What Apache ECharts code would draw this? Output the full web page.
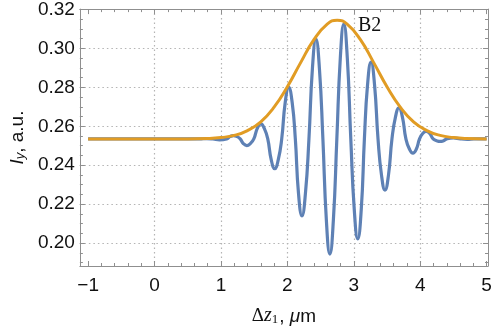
<!DOCTYPE html>
<html>
<head>
<meta charset="utf-8">
<script src="https://cdn.jsdelivr.net/npm/echarts@6/dist/echarts.min.js"></script>
<style>
html, body { margin: 0; padding: 0; background: #fff; }
#chart { width: 498px; height: 331px; }
</style>
</head>
<body>
<div id="chart"></div>
<script>
// orange envelope
const envX = [-1, 0, 0.5, 0.8, 1.0, 1.2, 1.4, 1.6, 1.8, 2.0, 2.2, 2.4, 2.6, 2.75, 2.9, 3.1, 3.3, 3.5, 3.7, 3.9, 4.1, 4.3, 4.5, 4.7, 5.0]
const envY = [0.2535, 0.2535, 0.2535, 0.2537, 0.2542, 0.2553, 0.2578, 0.2623, 0.2698, 0.2803, 0.2927, 0.3045, 0.3125, 0.3145,
  0.3125, 0.3045, 0.2927, 0.2803, 0.2698, 0.2623, 0.2578, 0.2553, 0.2542, 0.2537, 0.2535]

// blue signal: flat part, then peaks / troughs with their flanks and base crossings
const sigX = [-1, 0, 0.5, 0.68, 0.78, 0.88, 0.98, 1.085,
  1.1375, 1.19, 1.2425, 1.29, 1.3375, 1.39, 1.4425, 1.495,
  1.5475, 1.60, 1.6525, 1.705, 1.7575, 1.81, 1.8625, 1.915,
  1.9675, 2.02, 2.0725, 2.12, 2.1675, 2.22, 2.2725, 2.325,
  2.3775, 2.43, 2.4825, 2.535, 2.5875, 2.64, 2.6925, 2.745,
  2.7975, 2.85, 2.9025, 2.955, 3.0075, 3.06, 3.1125, 3.16,
  3.2075, 3.26, 3.3125, 3.365, 3.4175, 3.47, 3.5225, 3.575,
  3.6275, 3.68, 3.7325, 3.785, 3.8375, 3.89, 3.9425, 3.99,
  4.0375, 4.09, 4.1425, 4.195, 4.2475, 4.30, 4.3525, 4.40,
  4.50, 4.605, 4.71, 4.81, 4.91, 5.0]
const sigY = [0.2535, 0.2535, 0.2535, 0.2535, 0.2537, 0.2535, 0.2530, 0.2535,
  0.2547, 0.2552, 0.2547, 0.2535, 0.2511, 0.2501, 0.2511, 0.2535,
  0.2589, 0.2612, 0.2589, 0.2535, 0.2427, 0.2382, 0.2427, 0.2535,
  0.2722, 0.2800, 0.2722, 0.2535, 0.2256, 0.2140, 0.2256, 0.2535,
  0.2898, 0.3048, 0.2898, 0.2535, 0.2116, 0.1943, 0.2116, 0.2535,
  0.2952, 0.3125, 0.2952, 0.2535, 0.2172, 0.2021, 0.2172, 0.2535,
  0.2814, 0.2930, 0.2814, 0.2535, 0.2349, 0.2272, 0.2349, 0.2535,
  0.2647, 0.2694, 0.2647, 0.2535, 0.2483, 0.2462, 0.2483, 0.2535,
  0.2563, 0.2574, 0.2563, 0.2535, 0.2526, 0.2522, 0.2526, 0.2535,
  0.2540, 0.2535, 0.2533, 0.2535, 0.2535, 0.2535]

const xMajor = [-1, 0, 1, 2, 3, 4, 5]
const xGrid = [0, 1, 2, 3, 4]
const yMajor = [0.20, 0.22, 0.24, 0.26, 0.28, 0.30, 0.32]
const yGrid = [0.20, 0.22, 0.24, 0.26, 0.28, 0.30]

const xMinor = []
for (let i = -5; i <= 25; i++) xMinor.push(+(i * 0.2).toFixed(1))
const yMinor = []
for (let i = 38; i <= 64; i++) yMinor.push(+(i * 0.005).toFixed(3))

const frameColor = '#8f8f8f'
const textColor = '#111'

function pair(xs, ys) {
  return xs.map((x, i) => [x, ys[i]])
}

/** one side of the frame: line + ticks, no labels */
function frameAxis(base, position, ticks, len, showLine) {
  return Object.assign({}, base, {
    position: position,
    axisLine: { show: showLine, onZero: false, lineStyle: { color: frameColor, width: 1 } },
    axisTick: { show: true, inside: true, length: len, customValues: ticks, lineStyle: { color: frameColor, width: 1 } },
    axisLabel: { show: false },
    splitLine: { show: false }
  })
}

/** dotted grid lines only */
function gridAxis(base, position, values) {
  return Object.assign({}, base, {
    position: position,
    axisLine: { show: false },
    axisTick: { show: false, customValues: values },
    axisLabel: { show: false },
    splitLine: { show: true, lineStyle: { color: '#b4b4b4', width: 1.2, type: [1.5, 3] } }
  })
}

const baseX = { type: 'value', min: -1.124, max: 5.021 }
const baseY = { type: 'value', min: 0.1882, max: 0.3202 }

const xMain = frameAxis(baseX, 'bottom', xMajor, 5, true)
xMain.axisLabel = {
  show: true, customValues: xMajor, margin: 10, fontSize: 19, fontFamily: 'Liberation Sans', color: textColor,
  formatter: v => (v < 0 ? '\u2212' + Math.abs(v) : String(v))
}
xMain.name = '{d|\u0394}{z|z}{s|1}{n|, }{mu|\u03bc}{n|m}'
xMain.nameLocation = 'middle'
xMain.nameGap = 38
xMain.nameTextStyle = {
  rich: {
    d: { fontFamily: 'Liberation Serif', fontSize: 19, color: textColor, lineHeight: 22, verticalAlign: 'bottom' },
    z: { fontFamily: 'Liberation Serif', fontStyle: 'italic', fontSize: 20, color: textColor, lineHeight: 22, verticalAlign: 'bottom' },
    s: { fontFamily: 'Liberation Serif', fontSize: 13, color: textColor, lineHeight: 16, verticalAlign: 'bottom', padding: [0, 1, 0, 0] },
    n: { fontFamily: 'Liberation Sans', fontSize: 19, color: textColor, lineHeight: 22, verticalAlign: 'bottom' },
    mu: { fontFamily: 'Liberation Sans', fontStyle: 'italic', fontSize: 19, color: textColor, lineHeight: 22, verticalAlign: 'bottom' }
  }
}

const yMain = frameAxis(baseY, 'left', yMajor, 5, true)
yMain.axisLabel = {
  show: true, customValues: yMajor, margin: 5, fontSize: 19, fontFamily: 'Liberation Sans', color: textColor,
  formatter: v => v.toFixed(2)
}
yMain.name = '{i|I}{s|y}{n|, a.u.}'
yMain.nameLocation = 'middle'
yMain.nameGap = 46
yMain.nameTextStyle = {
  rich: {
    i: { fontFamily: 'Liberation Sans', fontStyle: 'italic', fontSize: 19, color: textColor, lineHeight: 22, verticalAlign: 'bottom' },
    s: { fontFamily: 'Liberation Sans', fontStyle: 'italic', fontSize: 13, color: textColor, lineHeight: 17, verticalAlign: 'bottom' },
    n: { fontFamily: 'Liberation Sans', fontSize: 19, color: textColor, lineHeight: 22, verticalAlign: 'bottom' }
  }
}

const chart = echarts.init(document.getElementById('chart'))
chart.setOption({
  animation: false,
  backgroundColor: '#fff',
  title: {
    text: 'B2', left: 353, top: 11,
    textStyle: { fontFamily: 'Liberation Serif', fontSize: 20, fontWeight: 'normal', color: textColor }
  },
  grid: { left: 73, right: 10, top: 8, bottom: 63, containLabel: false },
  xAxis: [
    xMain,
    frameAxis(baseX, 'bottom', xMinor, 3, false),
    frameAxis(baseX, 'top', xMajor, 5, true),
    frameAxis(baseX, 'top', xMinor, 3, false),
    gridAxis(baseX, 'bottom', xGrid)
  ],
  yAxis: [
    yMain,
    frameAxis(baseY, 'left', yMinor, 3, false),
    frameAxis(baseY, 'right', yMajor, 5, true),
    frameAxis(baseY, 'right', yMinor, 3, false),
    gridAxis(baseY, 'left', yGrid)
  ],
  series: [
    {
      name: 'signal',
      type: 'line',
      data: pair(sigX, sigY),
      smooth: 0.5,
      showSymbol: false,
      lineStyle: { color: '#5e81b5', width: 3.2 },
      z: 3
    },
    {
      name: 'envelope',
      type: 'line',
      data: pair(envX, envY),
      smooth: 0.5,
      showSymbol: false,
      lineStyle: { color: '#e19c24', width: 3 },
      z: 4
    }
  ]
})
</script>
</body>
</html>
